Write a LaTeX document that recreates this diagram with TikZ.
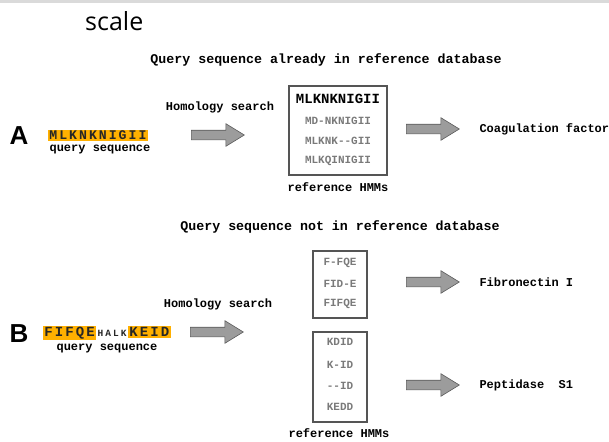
\documentclass[tikz,border=0pt]{standalone}
\usepackage{fontspec}
\setmainfont{Liberation Sans}
\newfontfamily\seqfont{Liberation Mono}
\newfontfamily\seqspaced[LetterSpace=15]{Liberation Mono}
\newfontfamily\gapspaced[LetterSpace=22]{Liberation Mono}
\newfontfamily\headfont{Open Sans}
\usetikzlibrary{shapes.arrows,positioning}
\definecolor{hlAmber}{HTML}{FFB000}
\definecolor{rowGray}{HTML}{7A7A7A}
\definecolor{boxGray}{HTML}{555555}
\definecolor{arrFill}{HTML}{9C9C9C}
\definecolor{arrLine}{HTML}{5A5A5A}
\definecolor{barGray}{HTML}{DADADA}

\begin{document}
\begin{tikzpicture}[
  x=1pt,y=-1pt,
  ttl/.style={font=\seqfont\bfseries\fontsize{13.3}{15}\selectfont},
  lbl/.style={font=\seqfont\bfseries\fontsize{12}{14}\selectfont},
  panel/.style={font=\bfseries\fontsize{26}{30}\selectfont},
  seq/.style={fill=hlAmber,inner sep=1.2pt,text=black!85,
    font=\seqspaced\bfseries\fontsize{13.2}{15}\selectfont},
  seqgap/.style={inner sep=1.2pt,text=black!85,
    font=\gapspaced\bfseries\fontsize{9.5}{11}\selectfont},
  hmmbox/.style={draw=boxGray,line width=1.4pt,inner sep=0pt},
  hmmrow/.style={text=rowGray,font=\seqfont\bfseries\fontsize{11}{13}\selectfont},
  hmmhead/.style={font=\seqfont\bfseries\fontsize{14}{16}\selectfont},
  fatarrow/.style={single arrow,draw=arrLine,fill=arrFill,line width=0.6pt,
    minimum height=53pt,single arrow head extend=6.5pt,
    single arrow tip angle=63,inner sep=4.5pt,anchor=west}
]
  \useasboundingbox (0,0) rectangle (609,441);
  \fill[barGray] (0,0) rectangle (609,3);
  \node[anchor=base west,inner sep=0pt,font=\headfont\fontsize{25}{30}\selectfont] (scale) at (85,31) {scale};

  % panel A
  \node[ttl] (ttlA) at (326,60) {Query sequence already in reference database};
  \node[panel] (labA) at (19,136) {A};
  \node[seq,anchor=west] (seqA) at (48,135.5) {MLKNKNIGII};
  \node[lbl] (qryA) at (100,150) {query sequence};
  \node[lbl] (homA) at (220,107) {Homology search};
  \node[fatarrow] (arrA1) at (191,135) {};

  \node[hmmbox,minimum width=98pt,minimum height=89pt] (boxA) at (338,130.5) {};
  \node[hmmhead] (hmmA0) at (338,99) {MLKNKNIGII};
  \node[hmmrow] (hmmA1) at (338,121) {MD-NKNIGII};
  \node[hmmrow] (hmmA2) at (338,141) {MLKNK--GII};
  \node[hmmrow] (hmmA3) at (338,161) {MLKQINIGII};
  \node[lbl] (refA) at (338,187) {reference HMMs};

  \node[fatarrow] (arrA2) at (406,129) {};
  \node[lbl,anchor=west] (resA) at (476,129) {Coagulation factor};

  % panel B
  \node[ttl] (ttlB) at (340,227) {Query sequence not in reference database};
  \node[panel] (labB) at (19,334) {B};
  \node[seq,anchor=west,font=\seqspaced\bfseries\fontsize{14}{16}\selectfont] (seqB1) at (43,333) {FIFQE};
  \node[seqgap,base right=0pt of seqB1] (seqB2) {HALK};
  \node[seq,base right=0pt of seqB2,font=\seqspaced\bfseries\fontsize{14}{16}\selectfont] (seqB3) {KEID};
  \node[lbl] (qryB) at (107,349) {query sequence};
  \node[lbl] (homB) at (218,304) {Homology search};
  \node[fatarrow] (arrB1) at (190,332) {};

  \node[hmmbox,minimum width=54pt,minimum height=67pt] (boxB1) at (340,284.5) {};
  \node[hmmrow] (hmmB1) at (340,263) {F-FQE};
  \node[hmmrow] (hmmB2) at (340,284) {FID-E};
  \node[hmmrow] (hmmB3) at (340,304) {FIFQE};

  \node[hmmbox,minimum width=54pt,minimum height=90pt] (boxB2) at (340,377) {};
  \node[hmmrow] (hmmB4) at (340,342) {KDID};
  \node[hmmrow] (hmmB5) at (340,365) {K-ID};
  \node[hmmrow] (hmmB6) at (340,386) {--ID};
  \node[hmmrow] (hmmB7) at (340,407) {KEDD};
  \node[lbl] (refB) at (339,433) {reference HMMs};

  \node[fatarrow] (arrB2) at (406,282) {};
  \node[lbl,anchor=west] (resB1) at (476,282) {Fibronectin I};
  \node[fatarrow] (arrB3) at (406,385) {};
  \node[lbl,anchor=west] (resB2) at (476,385) {Peptidase\ \ S1};
\end{tikzpicture}
\end{document}
